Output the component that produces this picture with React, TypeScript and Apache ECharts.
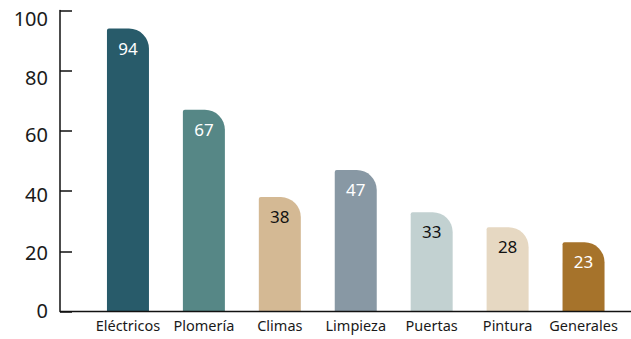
import React, { useEffect, useRef } from "react";
import * as echarts from "echarts";

const categories = ["Eléctricos", "Plomería", "Climas", "Limpieza", "Puertas", "Pintura", "Generales"];
const values = [94, 67, 38, 47, 33, 28, 23];
const barColors = ["#285B6A", "#568786", "#D4B994", "#8898A4", "#C2D1D1", "#E6D8C2", "#A6732B"];
const labelColors = ["#ffffff", "#ffffff", "#111111", "#ffffff", "#111111", "#111111", "#ffffff"];
const yTicks = [0, 20, 40, 60, 80, 100];

export default function App() {
  const ref = useRef<HTMLDivElement>(null);
  useEffect(() => {
    if (!ref.current) return;
    const chart = echarts.init(ref.current, null, { renderer: "svg" });
    const font = "Noto Sans";
    const shifts = [-1, 1.6, 3, 3.8, 6.3, 8];
    const rich: Record<string, any> = {};
    yTicks.forEach((t, i) => {
      const s = shifts[i];
      rich["t" + i] = {
        fontSize: 20,
        fontFamily: font,
        color: "#1a1a1a",
        padding: s >= 0 ? [2 * s, 0, 0, 0] : [0, 0, -2 * s, 0],
      };
    });
    chart.setOption({
      animation: false,
      grid: { left: 90, right: 9.5, top: 10.5, bottom: 27.5 },
      xAxis: {
        type: "category",
        data: categories,
        axisLine: { show: false },
        axisTick: { show: false },
        axisLabel: { color: "#1a1a1a", fontSize: 14.5, fontFamily: font, margin: 6, interval: 0 },
      },
      yAxis: {
        type: "value",
        min: yTicks[0],
        max: yTicks[yTicks.length - 1],
        interval: 20,
        offset: 30,
        splitLine: { show: false },
        axisLine: { show: true, lineStyle: { color: "#111", width: 1.5 } },
        axisTick: { show: true, inside: true, length: 12, lineStyle: { color: "#111", width: 1.5 } },
        axisLabel: {
          color: "#1a1a1a",
          fontSize: 20,
          fontFamily: font,
          margin: 12,
          formatter: (v: number) => {
            const i = yTicks.indexOf(v);
            return i >= 0 ? `{t${i}|${v}}` : String(v);
          },
          rich,
        },
      },
      graphic: [
        {
          type: "line",
          shape: { x1: 60, y1: 311.5, x2: 631, y2: 311.5 },
          style: { stroke: "#111", lineWidth: 1.5 },
          z: 10,
        },
      ],
      series: [
        {
          type: "bar",
          barWidth: 42,
          data: values.map((v, i) => ({
            value: v,
            itemStyle: { color: barColors[i], borderRadius: [2, 20, 0, 0] },
            label: { color: labelColors[i] },
          })),
          label: {
            show: true,
            position: "insideTop",
            distance: 11,
            fontSize: 17,
            fontFamily: font,
          },
        },
      ],
    });
    return () => chart.dispose();
  }, []);
  return <div ref={ref} style={{ width: 631, height: 339, position: "absolute", left: 0, top: 0 }} />;
}
